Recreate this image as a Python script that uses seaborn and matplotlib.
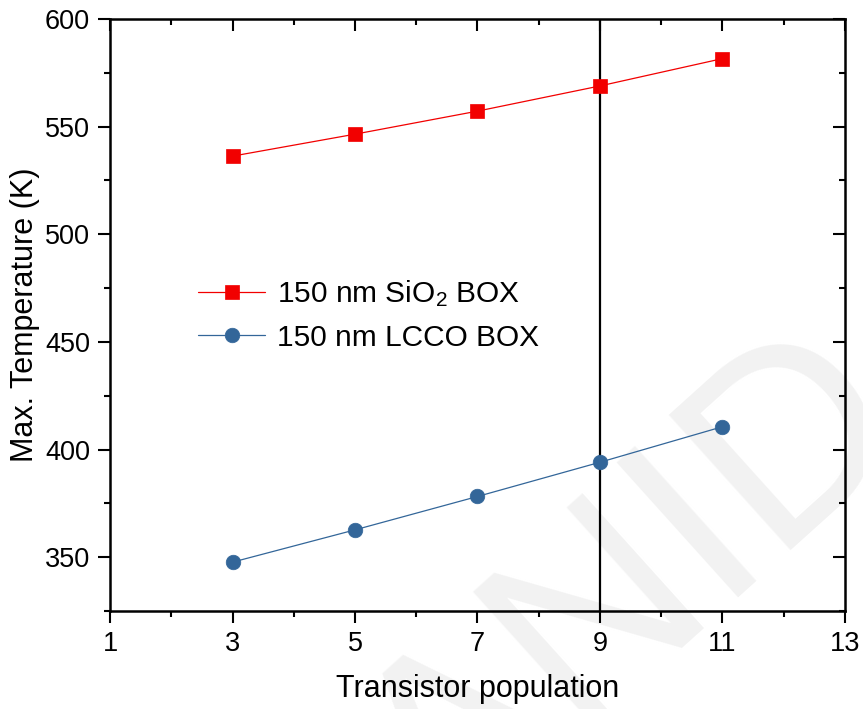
import matplotlib
matplotlib.use("Agg")
import matplotlib.pyplot as plt
from matplotlib.ticker import MultipleLocator
import seaborn as sns
import pandas as pd

# Maximum device temperature versus number of transistors
population = [3, 5, 7, 9, 11]
temp_sio2 = [536.3, 546.5, 557.2, 568.9, 581.6]
temp_lcco = [347.7, 362.7, 378.2, 394.1, 410.6]
label_sio2 = "150 nm SiO$_2$ BOX"
label_lcco = "150 nm LCCO BOX"
x_ticks = [1, 3, 5, 7, 9, 11, 13]
y_ticks = [350, 400, 450, 500, 550, 600]

sns.set_theme(style="ticks")
plt.rcParams["font.family"] = ["Liberation Sans", "DejaVu Sans"]
plt.rcParams["mathtext.fontset"] = "custom"
plt.rcParams["mathtext.rm"] = "Liberation Sans"
plt.rcParams["mathtext.default"] = "regular"
for key in ["text.color", "axes.labelcolor", "xtick.color", "ytick.color",
            "xtick.labelcolor", "ytick.labelcolor"]:
    plt.rcParams[key] = "black"

df_sio2 = pd.DataFrame({"population": population, "temp": temp_sio2})
df_lcco = pd.DataFrame({"population": population, "temp": temp_lcco})

fig = plt.figure(figsize=(8.63, 7.09), dpi=100)
ax = fig.add_axes([0.1275, 0.1382, 0.8515, 0.835])
ax.set_facecolor("none")

# faint diagonal watermark behind the plot
fig.text(0.52, -0.21, "ANID", rotation=42, rotation_mode="anchor", fontsize=190,
         color="#f2f2f2", ha="left", va="baseline", zorder=-5)

red = "#f20000"
blue = "#336699"
sns.lineplot(data=df_sio2, x="population", y="temp", ax=ax, color=red,
             marker="s", markersize=9.5, markeredgecolor=red, markeredgewidth=0.5,
             linewidth=0.9, label=label_sio2, zorder=3)
sns.lineplot(data=df_lcco, x="population", y="temp", ax=ax, color=blue,
             marker="o", markersize=10.5, markeredgecolor=blue, markeredgewidth=0.5,
             linewidth=0.9, label=label_lcco, zorder=3)

ax.axvline(9, color="black", linewidth=1.6, zorder=2)

ax.set_xlim(1, 13)
ax.set_ylim(325, 600)
ax.set_xticks(x_ticks)
ax.set_yticks(y_ticks)
ax.xaxis.set_minor_locator(MultipleLocator(1))
ax.yaxis.set_minor_locator(MultipleLocator(25))

for s in ax.spines.values():
    s.set_visible(True)
    s.set_linewidth(1.8)
    s.set_color("black")

ax.tick_params(which="major", direction="out", length=8.5, width=1.5,
               labelsize=19.5, colors="black", pad=6)
ax.tick_params(which="minor", direction="out", length=4.5, width=1.5, colors="black")

# inward ticks on the top and right edges
top = ax.secondary_xaxis("top")
top.set_xticks(x_ticks)
top.xaxis.set_minor_locator(MultipleLocator(1))
top.tick_params(which="major", direction="in", length=8.5, width=1.5, labeltop=False)
top.tick_params(which="minor", direction="in", length=4.5, width=1.5)
top.spines["top"].set_visible(False)
right = ax.secondary_yaxis("right")
right.set_yticks(y_ticks)
right.yaxis.set_minor_locator(MultipleLocator(25))
right.tick_params(which="major", direction="in", length=8.5, width=1.5, labelright=False)
right.tick_params(which="minor", direction="in", length=4.5, width=1.5)
right.spines["right"].set_visible(False)

ax.set_xlabel("Transistor population", fontsize=22, labelpad=12)
ax.set_ylabel("Max. Temperature (K)", fontsize=22, labelpad=3)

leg = ax.legend(loc="center left", bbox_to_anchor=(0.12, 0.5), frameon=False,
                fontsize=21.5, handlelength=2.25, handletextpad=0.4,
                labelspacing=0.5, borderaxespad=0, borderpad=0)

fig.savefig("out.png", dpi=100)
